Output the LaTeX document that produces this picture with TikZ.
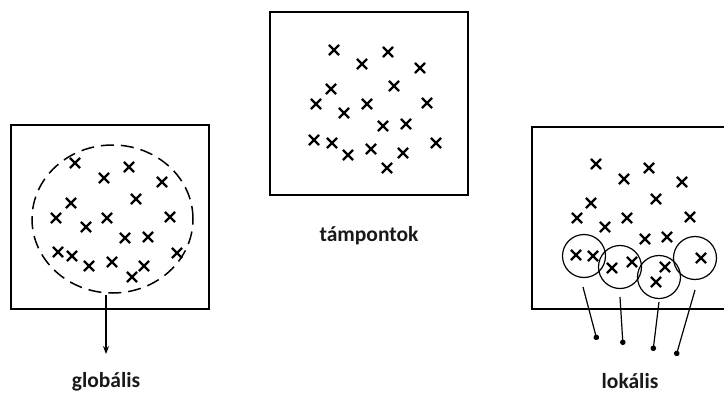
\documentclass[tikz,border=0pt]{standalone}
\usepackage{fontspec}
\setmainfont{Carlito}
\usetikzlibrary{shapes.misc,shapes.geometric,arrows.meta}
\begin{document}
\begin{tikzpicture}[x=1pt,y=-1pt,
  frame/.style={draw, line width=1.9pt, inner sep=0pt},
  xmark/.style={cross out, draw, line width=2.2pt, minimum size=8pt, inner sep=0pt},
  ring/.style={circle, draw, line width=1.2pt, minimum size=43pt, inner sep=0pt},
  label/.style={font=\bfseries\fontsize{21.5}{24}\selectfont, text=black!90, inner sep=0pt},
  feed/.style={line width=1.2pt, -{Circle[length=5.5pt]}},
]
\useasboundingbox (0,0) rectangle (724,394);

% three panels
\node[frame, minimum width=198pt, minimum height=184pt] (boxL) at (110,217) {};
\node[frame, minimum width=198pt, minimum height=183pt] (boxM) at (369,103.5) {};
\draw[line width=1.9pt] (726,127) -- (532,127) -- (532,309) -- (726,309);

% sample points
\foreach \p [count=\i] in {(334,50),(388,52),(362,64),(420,68),(331,89),(394,86),(316,104),(367,104),(427,103),(344,113),(383,126),(406,124),(314,140),(332,143),(348,155),(371,149),(403,153),(436,143),(387,168)}
  \node[xmark] (m\i) at \p {};
\foreach \p [count=\i] in {(75,163),(129,167),(104,178),(162,182),(71,203),(136,199),(56,218),(107,218),(170,217),(86,227),(125,238),(148,237),(58,252),(72,256),(89,266),(112,262),(144,266),(177,253),(132,277)}
  \node[xmark] (g\i) at \p {};
\foreach \p [count=\i] in {(596,164),(649,168),(624,179),(682,182),(591,203),(656,199),(577,218),(627,218),(690,217),(605,227),(645,239),(667,237),(576,255),(593,256),(612,268),(632,262),(665,267),(701,258),(656,282)}
  \node[xmark] (l\i) at \p {};

% global neighbourhood
\node[ellipse, draw, line width=1.5pt, dash pattern=on 13pt off 7pt,
      minimum width=161pt, minimum height=148pt, inner sep=0pt] (glob) at (112.5,219) {};
\coordinate (gtop) at (106,295);
\coordinate (gend) at (106,354);
\draw[line width=1.1pt, -{Stealth[length=8pt,width=6pt]}] (gtop) -- (gend);

% local neighbourhoods
\node[ring] (c1) at (584,256) {};
\node[ring] (c2) at (620,267) {};
\node[ring] (c3) at (659,277) {};
\node[ring] (c4) at (695,258) {};
\coordinate (t1) at (583,287); \coordinate (e1) at (597,340);
\coordinate (t2) at (620,297); \coordinate (e2) at (623,345);
\coordinate (t3) at (659,302); \coordinate (e3) at (653,351);
\coordinate (t4) at (695,290); \coordinate (e4) at (676,356);
\foreach \k in {1,...,4} \draw[feed] (t\k) -- (e\k);

% captions
\node[label] (capM) at (369,236) {támpontok};
\node[label] (capL) at (106,382) {globális};
\node[label] (capR) at (630,381) {lokális};
\end{tikzpicture}
\end{document}
